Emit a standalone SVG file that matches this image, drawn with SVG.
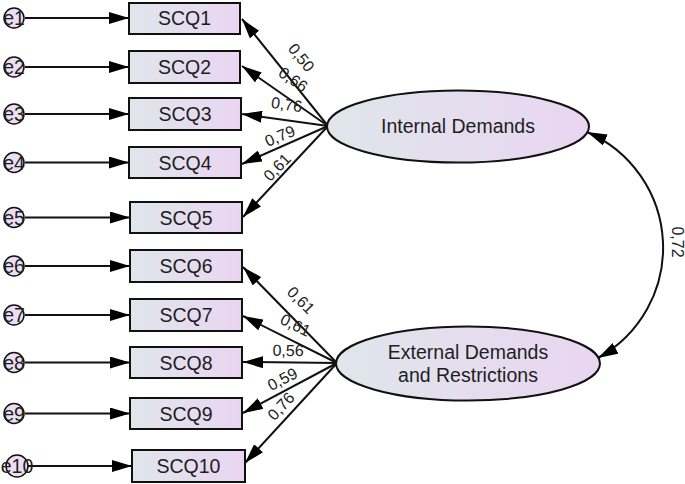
<svg xmlns="http://www.w3.org/2000/svg" width="685" height="484" viewBox="0 0 685 484">
<defs>
<linearGradient id="g" x1="0" y1="0" x2="1" y2="0">
<stop offset="0" stop-color="#dfe6eb"/>
<stop offset="1" stop-color="#ead5f1"/>
</linearGradient>
<marker id="ah" viewBox="0 0 20 12" refX="20" refY="6" markerWidth="20" markerHeight="12" markerUnits="userSpaceOnUse" orient="auto-start-reverse">
<path d="M0,0 L20,6 L0,12 Z" fill="#000"/>
</marker>
<style>
.box{fill:url(#g);stroke:#111;stroke-width:2}
.err{fill:#ecdff3;stroke:#111;stroke-width:1.5}
.lat{fill:url(#g);stroke:#111;stroke-width:2}
.t{font-family:"Liberation Sans",Arial,sans-serif;font-size:19.5px;fill:#1e1e1e;text-anchor:middle}
.et{font-family:"Liberation Sans",Arial,sans-serif;font-size:19.5px;fill:#1e1e1e;text-anchor:middle}
.lb{font-family:"Liberation Sans",Arial,sans-serif;font-size:16px;fill:#222;text-anchor:middle}
.c{stroke:#111;stroke-width:2;fill:none;marker-end:url(#ah)}
.cc{stroke:#111;stroke-width:2;fill:none;marker-end:url(#ah);marker-start:url(#ah)}
</style>
</defs>

<g id="connectors">
<line class="c" x1="25" y1="18" x2="129" y2="18"/>
<line class="c" x1="25" y1="67" x2="129" y2="67"/>
<line class="c" x1="25" y1="114" x2="129" y2="114"/>
<line class="c" x1="25" y1="162.5" x2="129" y2="162.5"/>
<line class="c" x1="25" y1="217.5" x2="130" y2="217.5"/>
<line class="c" x1="25" y1="266" x2="130" y2="266"/>
<line class="c" x1="25" y1="315" x2="130" y2="315"/>
<line class="c" x1="25" y1="362.5" x2="130" y2="362.5"/>
<line class="c" x1="25" y1="413.5" x2="130" y2="413.5"/>
<line class="c" x1="28" y1="466" x2="132" y2="466"/>

<line class="c" x1="328" y1="126" x2="242" y2="19"/>
<line class="c" x1="328" y1="126" x2="242" y2="66"/>
<line class="c" x1="328" y1="126" x2="242" y2="114"/>
<line class="c" x1="328" y1="126" x2="242" y2="164"/>
<line class="c" x1="328" y1="126" x2="243" y2="217"/>

<line class="c" x1="337" y1="363" x2="243" y2="267"/>
<line class="c" x1="337" y1="363" x2="243" y2="316"/>
<line class="c" x1="337" y1="363" x2="243" y2="362"/>
<line class="c" x1="337" y1="363" x2="243" y2="413"/>
<line class="c" x1="337" y1="363" x2="245" y2="463"/>

<path class="cc" d="M587,132 A126,126 0 0 1 598,358"/>

<text class="lb" transform="translate(297,61) rotate(51)">0,50</text>
<text class="lb" transform="translate(290,84) rotate(34.6)">0,66</text>
<text class="lb" transform="translate(286,110) rotate(8)">0,76</text>
<text class="lb" transform="translate(282,141) rotate(-23)">0,79</text>
<text class="lb" transform="translate(281,171) rotate(-46)">0,61</text>

<text class="lb" transform="translate(297,304) rotate(45.6)">0,61</text>
<text class="lb" transform="translate(293,330) rotate(26.8)">0,61</text>
<text class="lb" transform="translate(288,356) rotate(1)">0,56</text>
<text class="lb" transform="translate(285,384) rotate(-27.8)">0,59</text>
<text class="lb" transform="translate(285,410) rotate(-47)">0,76</text>

<text class="lb" transform="translate(672,242) rotate(90)">0,72</text>
</g>

<g id="e1"><circle class="err" cx="14" cy="18" r="10"/><text class="et" x="14" y="25">e1</text></g>
<g id="e2"><circle class="err" cx="14" cy="67" r="10"/><text class="et" x="14" y="74">e2</text></g>
<g id="e3"><circle class="err" cx="14" cy="114" r="10"/><text class="et" x="14" y="121">e3</text></g>
<g id="e4"><circle class="err" cx="14" cy="162.5" r="10"/><text class="et" x="14" y="169.5">e4</text></g>
<g id="e5"><circle class="err" cx="14" cy="217.5" r="10"/><text class="et" x="14" y="224.5">e5</text></g>
<g id="e6"><circle class="err" cx="14" cy="266" r="10"/><text class="et" x="14" y="273">e6</text></g>
<g id="e7"><circle class="err" cx="14" cy="315" r="10"/><text class="et" x="14" y="322">e7</text></g>
<g id="e8"><circle class="err" cx="14" cy="362.5" r="10"/><text class="et" x="14" y="369.5">e8</text></g>
<g id="e9"><circle class="err" cx="14" cy="413.5" r="10"/><text class="et" x="14" y="420.5">e9</text></g>
<g id="e10"><circle class="err" cx="17" cy="466" r="11"/><text class="et" x="17" y="473">e10</text></g>

<g id="SCQ1"><rect class="box" x="129" y="3" width="111" height="31"/><text class="t" x="184.5" y="25">SCQ1</text></g>
<g id="SCQ2"><rect class="box" x="129" y="51" width="111" height="32"/><text class="t" x="184.5" y="74">SCQ2</text></g>
<g id="SCQ3"><rect class="box" x="129" y="98" width="112" height="32"/><text class="t" x="185" y="121">SCQ3</text></g>
<g id="SCQ4"><rect class="box" x="129" y="147" width="112" height="31"/><text class="t" x="185" y="169.5">SCQ4</text></g>
<g id="SCQ5"><rect class="box" x="130" y="202" width="112" height="31"/><text class="t" x="186" y="224.5">SCQ5</text></g>
<g id="SCQ6"><rect class="box" x="130" y="250" width="112" height="32"/><text class="t" x="186" y="273">SCQ6</text></g>
<g id="SCQ7"><rect class="box" x="130" y="299" width="112" height="32"/><text class="t" x="186" y="322">SCQ7</text></g>
<g id="SCQ8"><rect class="box" x="130" y="347" width="112" height="31"/><text class="t" x="186" y="369.5">SCQ8</text></g>
<g id="SCQ9"><rect class="box" x="130" y="398" width="112" height="31"/><text class="t" x="186" y="420.5">SCQ9</text></g>
<g id="SCQ10"><rect class="box" x="132" y="450" width="113" height="32"/><text class="t" x="188.5" y="473">SCQ10</text></g>

<g id="InternalDemands"><ellipse class="lat" cx="458" cy="126.5" rx="131" ry="36"/><text class="t" x="458" y="133">Internal Demands</text></g>
<g id="ExternalDemands"><ellipse class="lat" cx="468" cy="363.5" rx="132" ry="37"/><text class="t" x="468" y="359">External Demands</text><text class="t" x="468" y="382">and Restrictions</text></g>
</svg>
